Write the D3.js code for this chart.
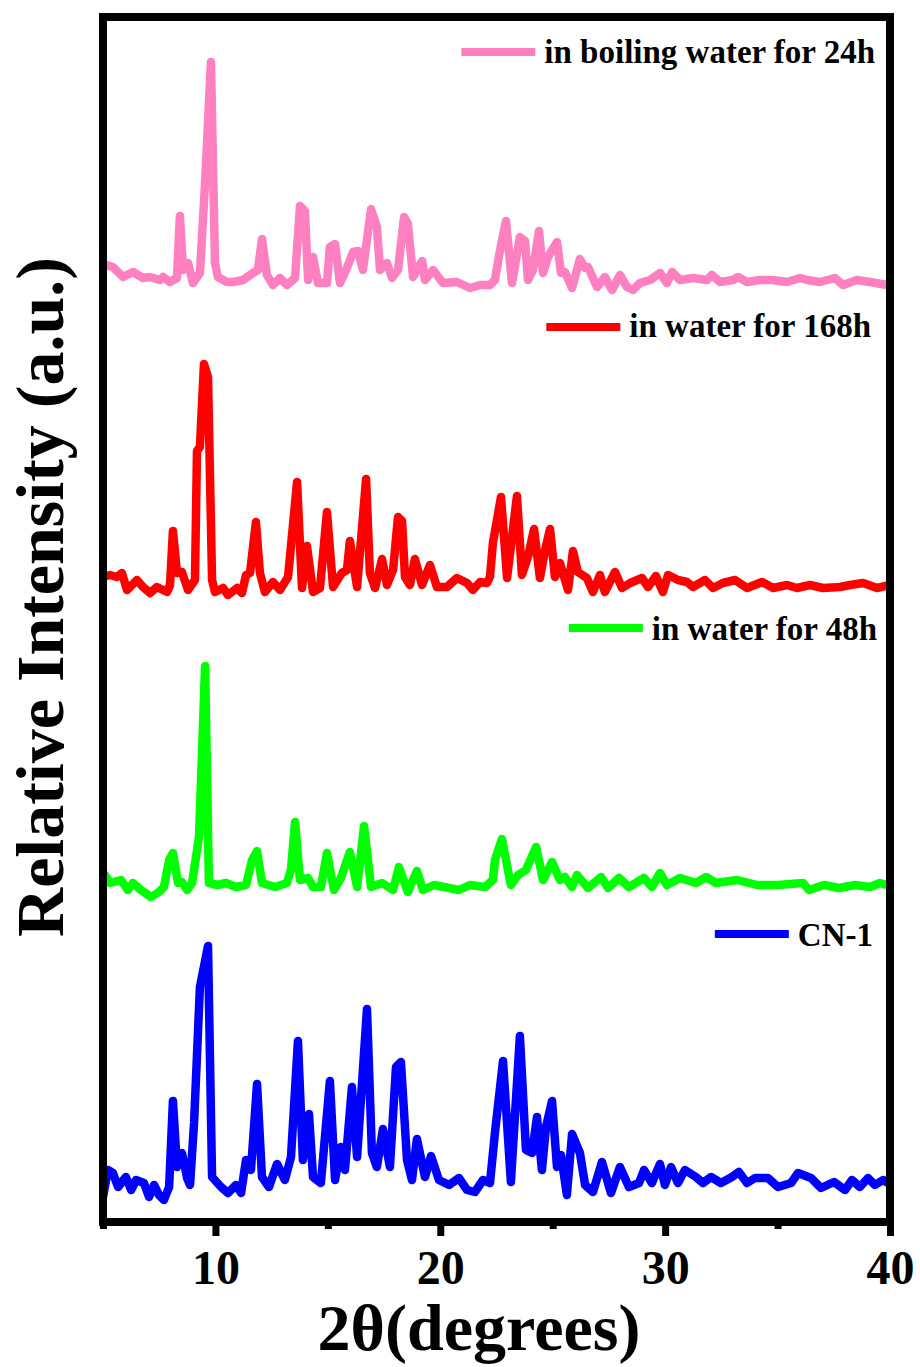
<!DOCTYPE html>
<html>
<head>
<meta charset="utf-8">
<script src="https://cdn.jsdelivr.net/npm/d3@7/dist/d3.min.js"></script>
<style>
  html, body { margin: 0; padding: 0; background: #fff; }
  svg { display: block; }
  text { font-family: "Liberation Serif", "Times New Roman", serif; font-weight: bold; fill: #000; }
</style>
</head>
<body>
<svg id="chart" width="920" height="1367"></svg>
<script>
// PXRD patterns, 2θ (degrees) and relative intensity (a.u.) for each sample
const cn1Theta = [5.00,5.22,5.44,5.67,6.02,6.25,6.47,6.82,7.05,7.27,7.49,7.71,7.94,8.11,8.29,8.51,8.74,8.87,9.05,9.31,9.67,9.85,10.25,10.56,10.91,11.14,11.36,11.58,11.85,12.07,12.38,12.74,13.09,13.36,13.67,13.89,14.16,14.34,14.69,15.09,15.32,15.58,15.76,16.07,16.30,16.74,16.96,17.18,17.45,17.76,18.03,18.25,18.52,18.74,18.96,19.32,19.59,19.94,20.39,20.83,21.19,21.54,21.90,22.21,22.43,22.79,23.14,23.54,23.81,24.08,24.30,24.52,24.70,24.97,25.19,25.37,25.63,25.86,26.21,26.44,26.79,27.19,27.59,27.99,28.39,28.84,29.06,29.41,29.77,29.99,30.26,30.57,30.88,31.37,31.68,32.04,32.48,32.97,33.28,33.64,34.00,34.57,35.02,35.60,35.91,36.49,36.93,37.51,38.00,38.31,38.66,39.02,39.33,39.69,40.00];
const cn1Counts = [-5,22,19,5,15,2,12,9,-5,7,-3,-8,5,91,25,39,14,7,69,205,246,15,5,-1,7,-1,32,22,108,15,5,28,12,35,151,32,78,15,9,111,12,45,22,105,35,183,39,25,63,25,125,130,32,12,53,15,36,12,7,14,2,0,12,9,59,131,10,156,42,39,75,22,65,91,25,37,-3,58,39,7,0,30,-1,25,5,9,22,9,28,7,25,9,22,15,9,15,9,15,20,9,14,14,5,9,19,14,4,10,2,12,5,14,7,12,8];

const water48Theta = [5.00,5.09,5.31,5.80,6.11,6.33,6.69,7.13,7.49,7.71,7.94,8.11,8.34,8.51,8.74,8.96,9.27,9.54,9.71,10.11,10.47,10.91,11.36,11.63,11.85,12.07,12.65,13.18,13.36,13.54,13.76,14.12,14.34,14.69,14.96,15.27,15.58,15.98,16.30,16.61,16.92,17.41,17.90,18.16,18.56,18.96,19.23,19.72,20.39,20.83,21.32,21.99,22.34,22.43,22.74,23.14,23.46,23.81,24.26,24.57,24.97,25.32,25.54,25.86,26.08,26.57,27.15,27.46,27.95,28.39,29.06,29.41,29.77,30.08,30.66,31.37,31.82,32.26,33.20,34.09,35.02,36.13,36.40,37.06,37.73,38.44,39.11,39.55,40.00];
const water48Counts = [14,17,9,12,2,9,2,-5,0,5,32,39,9,10,2,9,55,226,9,7,9,5,7,32,41,9,5,9,22,70,12,14,5,5,39,2,14,40,5,66,5,9,2,25,0,21,2,7,4,2,7,5,12,32,53,7,17,22,45,12,30,12,15,5,17,4,15,4,14,5,14,5,19,7,14,9,15,9,12,7,7,9,2,7,4,7,5,9,6];

const water168Theta = [5.00,5.31,5.62,5.84,6.07,6.51,6.78,7.09,7.40,7.67,7.85,7.98,8.11,8.29,8.51,8.78,9.09,9.18,9.31,9.49,9.67,9.85,9.98,10.34,10.56,10.96,11.18,11.36,11.54,11.80,11.98,12.20,12.56,12.87,13.23,13.63,13.85,14.07,14.34,14.65,14.96,15.23,15.62,15.85,15.98,16.30,16.70,16.87,17.10,17.41,17.63,17.90,18.12,18.30,18.43,18.65,18.87,19.19,19.54,19.85,20.30,20.74,21.19,21.45,21.77,22.08,22.21,22.34,22.70,22.97,23.41,23.63,23.90,24.17,24.43,24.66,24.88,25.10,25.32,25.68,25.90,26.12,26.52,26.79,27.10,27.32,27.77,28.08,28.44,28.97,29.24,29.59,29.90,30.13,30.57,30.97,31.24,31.77,32.13,32.57,33.11,33.64,34.31,34.80,35.42,35.86,36.44,37.02,37.78,38.22,38.80,39.42,40.00];
const water168Counts = [15,17,15,19,2,12,5,-1,5,2,0,7,61,19,20,2,12,141,145,228,215,12,0,4,-3,4,-1,17,19,70,19,0,10,2,15,110,4,46,0,4,80,5,19,22,51,5,113,19,4,33,7,22,75,71,15,7,33,7,27,5,5,14,9,2,10,9,15,49,95,14,96,17,35,63,14,42,63,15,29,2,41,20,14,0,17,0,20,4,9,14,5,16,0,17,12,10,5,12,4,9,12,4,10,4,7,4,7,4,5,7,9,4,7];

const boiling24Theta = [5.00,5.44,5.89,6.33,6.78,7.09,7.53,7.67,7.98,8.29,8.42,8.56,8.78,9.00,9.31,9.54,9.80,9.98,10.11,10.51,10.78,11.23,11.67,11.89,12.07,12.29,12.56,12.87,13.18,13.54,13.76,13.98,14.12,14.34,14.56,14.96,15.09,15.32,15.54,15.85,16.12,16.34,16.56,16.92,17.18,17.32,17.63,17.85,18.12,18.39,18.56,18.79,19.19,19.32,19.68,20.12,20.74,21.32,21.77,22.21,22.43,22.66,22.92,23.19,23.54,23.77,23.90,24.12,24.39,24.57,24.79,25.19,25.37,25.54,25.86,26.21,26.44,26.57,26.97,27.32,27.64,27.99,28.30,28.57,28.88,29.33,29.77,30.08,30.31,30.66,31.24,31.86,32.08,32.44,33.02,33.24,33.64,34.22,34.80,35.42,36.00,36.31,36.89,37.55,37.91,38.53,39.11,39.86,40.00];
const boiling24Counts = [23,20,10,15,9,10,7,10,5,9,71,17,24,4,14,104,225,24,10,5,5,7,14,17,48,12,2,9,2,9,81,76,7,30,4,4,40,43,4,19,35,36,17,78,60,17,24,9,17,70,63,10,26,7,17,4,5,-1,2,2,7,37,66,4,50,46,7,17,56,14,30,45,14,15,-1,28,19,20,0,10,-3,12,0,-3,4,7,14,4,15,7,9,7,12,5,7,10,5,7,7,5,9,7,5,9,2,7,5,2,2];

// stacking order bottom to top
const seriesNames = ["CN-1", "in water for 48h", "in water for 168h", "in boiling water for 24h"];
const seriesColors = ["#0000FF", "#00FF00", "#FF0000", "#FF80C0"];
const seriesOffsets = [30, 330, 630, 935];
const xTicksMajor = [10, 20, 30, 40];
const xTicksMinor = [5, 15, 25, 35];

const thetaSets = [cn1Theta, water48Theta, water168Theta, boiling24Theta];
const countSets = [cn1Counts, water48Counts, water168Counts, boiling24Counts];

const svg = d3.select("#chart");
const plot = { left: 103, right: 890, top: 17, bottom: 1222 };

const x = d3.scaleLinear().domain([5, 40]).range([plot.left, plot.right]);
const y = d3.scaleLinear().domain([0, 1205]).range([plot.bottom, plot.top]);

svg.append("defs").append("clipPath").attr("id", "plot-clip")
  .append("rect")
  .attr("x", plot.left).attr("y", plot.top)
  .attr("width", plot.right - plot.left).attr("height", plot.bottom - plot.top);

const line = d3.line()
  .x(d => x(d[0]))
  .y(d => y(d[1]))
  .curve(d3.curveLinear);

const curves = svg.append("g").attr("clip-path", "url(#plot-clip)");
seriesNames.forEach((name, i) => {
  const pts = thetaSets[i].map((t, k) => [t, countSets[i][k] + seriesOffsets[i]]);
  curves.append("path")
    .datum(pts)
    .attr("fill", "none")
    .attr("stroke", seriesColors[i])
    .attr("stroke-width", 8.5)
    .attr("stroke-linejoin", "round")
    .attr("stroke-linecap", "round")
    .attr("d", line);
});

// legend entries, each sitting above its own pattern
const legendRows = [
  { lineY: 934, baseY: 946, endX: 873 },
  { lineY: 628, baseY: 640, endX: 877 },
  { lineY: 327, baseY: 337, endX: 871 },
  { lineY: 52,  baseY: 63,  endX: 875 }
];
seriesNames.forEach((name, i) => {
  const r = legendRows[i];
  const g = svg.append("g");
  const t = g.append("text")
    .attr("x", r.endX).attr("y", r.baseY)
    .attr("text-anchor", "end")
    .attr("font-size", 33)
    .text(name);
  const w = t.node().getComputedTextLength();
  const x1 = r.endX - w - 9;
  g.append("line")
    .attr("x1", x1 - 74).attr("x2", x1)
    .attr("y1", r.lineY).attr("y2", r.lineY)
    .attr("stroke", seriesColors[i])
    .attr("stroke-width", 8);
});

// frame
svg.append("rect")
  .attr("x", plot.left).attr("y", plot.top)
  .attr("width", plot.right - plot.left).attr("height", plot.bottom - plot.top)
  .attr("fill", "none").attr("stroke", "#000").attr("stroke-width", 8);

// bottom axis
const axisMajor = d3.axisBottom(x).tickValues(xTicksMajor).tickSize(14).tickFormat(d3.format("d")).tickPadding(14);
const gx = svg.append("g").attr("transform", `translate(0,${plot.bottom})`).call(axisMajor);
gx.select(".domain").remove();
gx.selectAll(".tick line").attr("stroke", "#000").attr("stroke-width", 7);
gx.selectAll(".tick text")
  .attr("font-size", 48)
  .attr("font-family", "Liberation Serif, Times New Roman, serif")
  .attr("font-weight", "bold")
  .attr("fill", "#000")
  .attr("dy", "0.71em");

const axisMinor = d3.axisBottom(x).tickValues(xTicksMinor).tickSize(7).tickFormat("");
const gm = svg.append("g").attr("transform", `translate(0,${plot.bottom})`).call(axisMinor);
gm.select(".domain").remove();
gm.selectAll(".tick line").attr("stroke", "#000").attr("stroke-width", 7);

// axis titles
svg.append("text")
  .attr("x", 479).attr("y", 1350)
  .attr("text-anchor", "middle")
  .attr("font-size", 66)
  .text("2θ(degrees)");

svg.append("text")
  .attr("transform", "translate(63,597) rotate(-90)")
  .attr("text-anchor", "middle")
  .attr("font-size", 68)
  .text("Relative Intensity (a.u.)");
</script>
</body>
</html>
